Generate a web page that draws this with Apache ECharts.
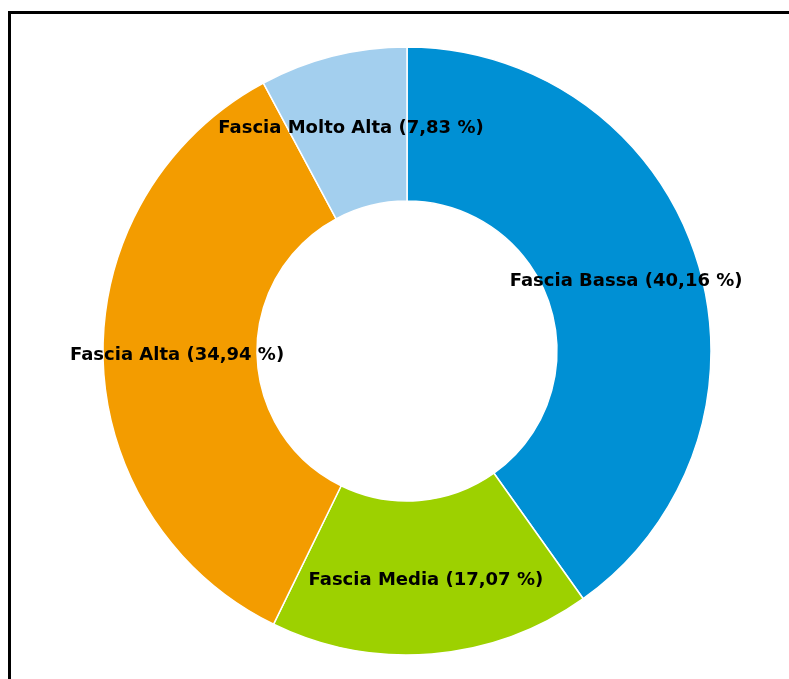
<!DOCTYPE html>
<html>
<head>
<meta charset="utf-8">
<script src="https://cdn.jsdelivr.net/npm/echarts@6/dist/echarts.min.js"></script>
<style>
  html, body { margin: 0; padding: 0; background: #fff; }
  #chart { width: 789px; height: 679px; }
</style>
</head>
<body>
<div id="chart"></div>
<script>
// fasce di reddito, in senso orario dalle 12
const categories = ["Fascia Bassa", "Fascia Media", "Fascia Alta", "Fascia Molto Alta"];
const percentages = [40.16, 17.07, 34.94, 7.83];
const sliceColors = ["#0090d4", "#9dd100", "#f39c00", "#a3cfee"];

const chart = echarts.init(document.getElementById("chart"));

const option = {
  animation: false,
  graphic: [
    {
      type: "rect",
      shape: { x: 9.5, y: 12.5, width: 900, height: 900 },
      style: { fill: "none", stroke: "#000", lineWidth: 3 },
      silent: true
    }
  ],
  series: [
    {
      type: "pie",
      center: [407, 351],
      radius: [150, 304],
      startAngle: 90,
      clockwise: true,
      avoidLabelOverlap: false,
      itemStyle: { borderColor: "#fff", borderWidth: 1.5 },
      label: {
        show: true,
        position: "inside",
        color: "#000",
        fontFamily: "DejaVu Sans",
        fontWeight: "bold",
        fontSize: 18,
        formatter: (p) => p.name + " (" + p.value.toFixed(2).replace(".", ",") + " %)"
      },
      labelLine: { show: false },
      data: categories.map((name, i) => ({
        name: name,
        value: percentages[i],
        itemStyle: { color: sliceColors[i] }
      }))
    }
  ]
};

chart.setOption(option);
</script>
</body>
</html>
